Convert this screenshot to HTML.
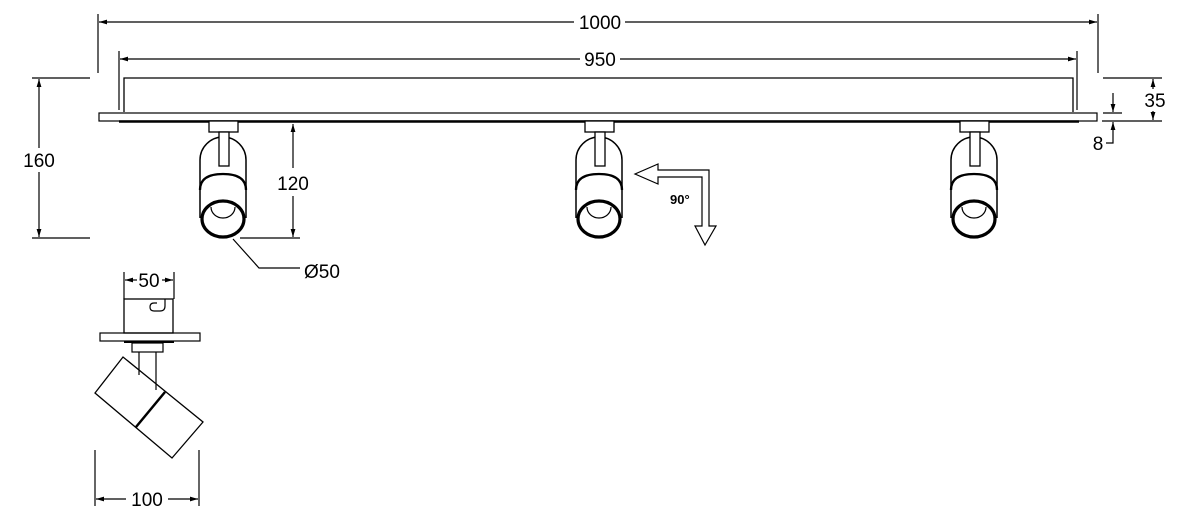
<!DOCTYPE html>
<html><head><meta charset="utf-8"><style>
html,body{margin:0;padding:0;background:#fff;}
svg{display:block;}
text{font-family:"Liberation Sans",Arial,sans-serif;fill:#000;}
</style></head><body>
<svg width="1190" height="524" viewBox="0 0 1190 524" xmlns="http://www.w3.org/2000/svg">
<defs>
<marker id="a" viewBox="0 0 10 6" refX="10" refY="3" markerWidth="8" markerHeight="4" orient="auto-start-reverse"><path d="M0,0 L10,3 L0,6 z" fill="#000"/></marker>
<g id="spot" fill="none" stroke="#000">
<path d="M-23,218 V160 A23,23 0 0 1 23,160 V218" stroke-width="1.5" fill="#fff"/>
<rect x="-14" y="121" width="29" height="11" stroke-width="1.3" fill="#fff"/>
<rect x="-4" y="132" width="10" height="34" stroke-width="1.3" fill="#fff"/>
<path d="M-23,190 Q-23,174 0,174 Q23,174 23,190" stroke-width="2.3"/>
<path d="M-12,207 A12,11 0 0 0 12,207" stroke-width="1.2"/>
<ellipse cx="0" cy="219" rx="21" ry="18" stroke-width="3.2"/>
</g>
</defs>
<g stroke="#000" fill="none" stroke-width="1.2">
<line x1="98" y1="14" x2="98" y2="73"/>
<line x1="1098" y1="14" x2="1098" y2="73"/>
<line x1="99" y1="22" x2="574" y2="22" marker-start="url(#a)"/>
<line x1="625" y1="22" x2="1097" y2="22" marker-end="url(#a)"/>
<line x1="119" y1="51" x2="119" y2="110"/>
<line x1="1077" y1="51" x2="1077" y2="110"/>
<line x1="120" y1="59" x2="580" y2="59" marker-start="url(#a)"/>
<line x1="620" y1="59" x2="1076" y2="59" marker-end="url(#a)"/>
<path d="M124,112 V78 H1073 V112" stroke-width="1.3"/>
<rect x="99" y="113" width="998" height="8" stroke-width="1.2"/>
<line x1="119" y1="121.5" x2="1079" y2="121.5" stroke-width="2.5"/>
<line x1="32" y1="78" x2="90" y2="78"/>
<line x1="32" y1="238" x2="90" y2="238"/>
<line x1="39" y1="79" x2="39" y2="148" marker-start="url(#a)"/>
<line x1="39" y1="172" x2="39" y2="237" marker-end="url(#a)"/>
<line x1="1103" y1="78" x2="1162" y2="78"/>
<line x1="1102" y1="121" x2="1162" y2="121"/>
<line x1="1103" y1="113" x2="1122" y2="113"/>
<line x1="1153" y1="79" x2="1153" y2="89" marker-start="url(#a)"/>
<line x1="1153" y1="111" x2="1153" y2="120" marker-end="url(#a)"/>
<line x1="1113" y1="93" x2="1113" y2="112" marker-end="url(#a)"/>
<path d="M1113,122 V143 H1106" marker-start="url(#a)"/>
<line x1="240" y1="238" x2="300" y2="238"/>
<line x1="293" y1="124" x2="293" y2="168" marker-start="url(#a)"/>
<line x1="293" y1="196" x2="293" y2="237" marker-end="url(#a)"/>
<path d="M233,239 L259,268 H300"/>
<path d="M635,174 L658,164 V170 H709 V226 H716 L705,245 L695,226 H702 V177 H658 V184 Z" stroke-width="1.2"/>
<line x1="124" y1="272" x2="124" y2="299"/>
<line x1="174" y1="272" x2="174" y2="299"/>
<line x1="125" y1="280" x2="137" y2="280" marker-start="url(#a)"/>
<line x1="162" y1="280" x2="173" y2="280" marker-end="url(#a)"/>
<rect x="124" y="299" width="49" height="34" stroke-width="1.3"/>
<path d="M165,299 V306 Q165,311 160,311 H154 Q150,311 150,307 Q150,303 154,303 H157" stroke-width="1.2"/>
<rect x="100" y="333" width="100" height="8" stroke-width="1.2"/>
<line x1="124" y1="342" x2="174" y2="342" stroke-width="2"/>
<rect x="132" y="343" width="31" height="9" stroke-width="1.2"/>
<path d="M139,352 V375 M156,352 V390" stroke-width="1.2"/>
<path d="M95,393 L123,357 L203,422 L172,458 Z" stroke-width="1.3"/>
<line x1="136" y1="427" x2="165" y2="392" stroke-width="2.5"/>
<line x1="95" y1="450" x2="95" y2="506"/>
<line x1="199" y1="450" x2="199" y2="506"/>
<line x1="96" y1="499" x2="126" y2="499" marker-start="url(#a)"/>
<line x1="168" y1="499" x2="198" y2="499" marker-end="url(#a)"/>
</g>
<use href="#spot" x="223" y="0"/>
<use href="#spot" x="599" y="0"/>
<use href="#spot" x="974" y="0"/>
<text x="600" y="29" font-size="19" text-anchor="middle">1000</text>
<text x="600" y="66" font-size="19" text-anchor="middle">950</text>
<text x="39" y="167" font-size="19" text-anchor="middle">160</text>
<text x="1155" y="107" font-size="19" text-anchor="middle">35</text>
<text x="1098" y="150" font-size="19" text-anchor="middle">8</text>
<text x="293" y="190" font-size="19" text-anchor="middle">120</text>
<text x="304" y="278" font-size="19">Ø50</text>
<text x="670" y="204" font-size="13" font-weight="bold">90°</text>
<text x="149" y="287" font-size="19" text-anchor="middle">50</text>
<text x="147" y="506" font-size="19" text-anchor="middle">100</text>
</svg>
</body></html>
